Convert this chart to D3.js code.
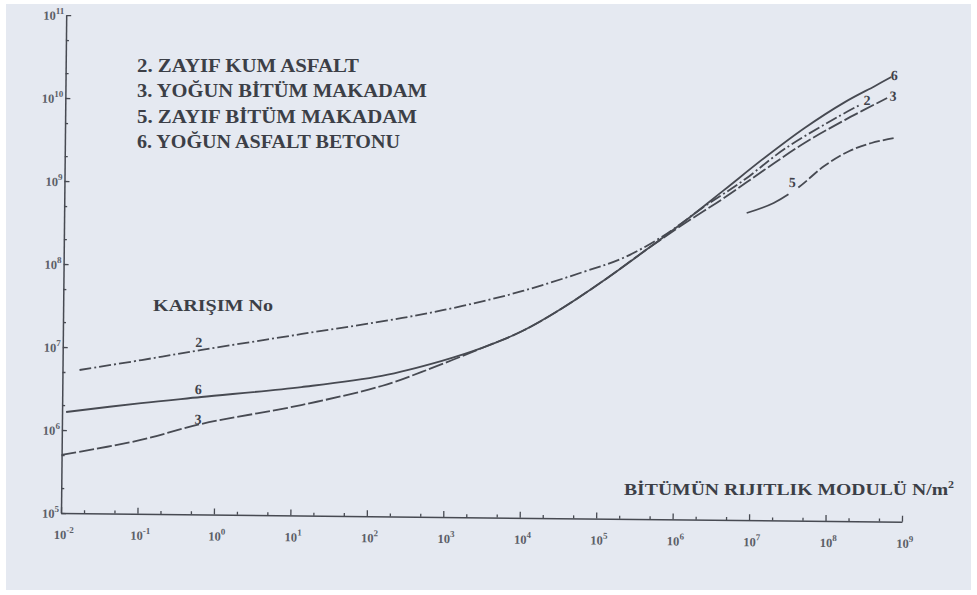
<!DOCTYPE html>
<html>
<head>
<meta charset="utf-8">
<script src="https://cdn.jsdelivr.net/npm/d3@7"></script>
<style>
  html, body { margin: 0; padding: 0; background: #ffffff; }
  svg { display: block; }
  text { font-family: "Liberation Serif", "DejaVu Serif", serif; }
</style>
</head>
<body>
<svg id="chart" width="977" height="595"></svg>
<script>
// ---- data ---------------------------------------------------------------
// stiffness of bitumen (N/m²) vs. stiffness of mix, log–log
const legendItems = [
  "2. ZAYIF KUM ASFALT",
  "3.  YOĞUN BİTÜM MAKADAM",
  "5. ZAYIF BİTÜM MAKADAM",
  "6. YOĞUN ASFALT BETONU"
];
const xTickExponents = [-2, -1, 0, 1, 2, 3, 4, 5, 6, 7, 8, 9];
const yTickExponents = [5, 6, 7, 8, 9, 10, 11];
const minorMultipliers = [2, 5];

const mix2X = [1.67e-2, 0.108, 0.659, 13.4, 274, 1.67e3, 1.02e4, 6.2e4, 2.07e5, 6.9e5, 2.31e6, 7.7e6, 2.58e7, 1.27e8, 2.47e8];
const mix2Y = [5.31e6, 7.13e6, 9.6e6, 1.54e7, 2.47e7, 3.51e7, 5.41e7, 9.3e7, 1.39e8, 2.59e8, 5.85e8, 1.25e9, 2.99e9, 7.4e9, 1.04e10];

const mix3X = [1.0e-2, 0.108, 0.659, 13.4, 150, 500, 3.05e3, 1.02e4, 3.4e4, 1.14e5, 3.79e5, 1.27e6, 4.23e6, 1.41e7, 4.71e7, 1.57e8, 5.6e8];
const mix3Y = [5.0e5, 7.76e5, 1.23e6, 2.14e6, 3.72e6, 5.56e6, 1.10e7, 1.78e7, 3.41e7, 7.3e7, 1.65e8, 3.63e8, 7.55e8, 1.66e9, 3.56e9, 6.8e9, 1.27e10];

const mix5X = [8.45e6, 1.9e7, 4.05e7, 8.6e7, 1.83e8, 3.55e8, 7.1e8];
const mix5Y = [5.02e8, 6.68e8, 1.05e9, 1.89e9, 2.89e9, 3.63e9, 4.2e9];

const mix6X = [1.13e-2, 0.108, 0.659, 13.4, 150, 914, 3.05e3, 1.02e4, 3.4e4, 1.14e5, 3.79e5, 1.27e6, 4.23e6, 1.41e7, 4.71e7, 1.57e8, 3.88e8, 6.3e8];
const mix6Y = [1.65e6, 2.16e6, 2.60e6, 3.53e6, 4.91e6, 7.59e6, 1.10e7, 1.78e7, 3.41e7, 7.3e7, 1.65e8, 3.84e8, 9.4e8, 2.32e9, 5.4e9, 1.12e10, 1.77e10, 2.28e10];

// curve numbers written next to the lines (value coordinates)
const curveTagText = ["2", "6", "3", "6", "2", "3", "5"];
const curveTagX    = [0.60, 0.60, 0.60, 6.9e8, 3.05e8, 6.7e8, 3.3e7];
const curveTagY    = [1.19e7, 3.24e6, 1.41e6, 2.41e10, 1.19e10, 1.35e10, 1.2e9];

// ---- layout ---------------------------------------------------------------
const svg = d3.select("#chart");
const W = 977, H = 595;
const ink = "#474a52";
const origin = { x: 61, y: 513 };

svg.append("rect")
  .attr("x", 6).attr("y", 4)
  .attr("width", W - 12).attr("height", H - 9)
  .attr("fill", "#e5e9f1");

const x = d3.scaleLog().domain([1e-2, 1e9]).range([61, 902]);
const y = d3.scaleLog().domain([1e5, 1e11]).range([513, 15]);

// plot frame sits slightly turned, like the printed page
const plot = svg.append("g")
  .attr("transform", `rotate(0.6, ${origin.x}, ${origin.y})`);

const xMajor = xTickExponents.map(e => Math.pow(10, e));
const xMinor = [];
xTickExponents.slice(0, -1).forEach(e => minorMultipliers.forEach(m => xMinor.push(m * Math.pow(10, e))));
const yMajor = yTickExponents.map(e => Math.pow(10, e));
const yMinor = [];
yTickExponents.slice(0, -1).forEach(e => minorMultipliers.forEach(m => yMinor.push(m * Math.pow(10, e))));

function styleAxis(g) {
  g.selectAll("path.domain").attr("stroke", ink).attr("stroke-width", 1.5);
  g.selectAll(".tick line").attr("stroke", ink).attr("stroke-width", 1.3);
  g.selectAll(".tick text").remove();
}

// x axis: ticks point up into the plot
plot.append("g")
  .attr("transform", `translate(0, ${y(1e5)})`)
  .call(d3.axisTop(x).tickValues(xMajor).tickSize(6).tickSizeOuter(0).tickFormat(""))
  .call(styleAxis);
plot.append("g")
  .attr("transform", `translate(0, ${y(1e5)})`)
  .call(d3.axisTop(x).tickValues(xMinor).tickSize(3).tickSizeOuter(0).tickFormat(""))
  .call(styleAxis)
  .call(g => g.select("path.domain").remove());

// y axis: ticks point right into the plot
plot.append("g")
  .attr("transform", `translate(${x(1e-2)}, 0)`)
  .call(d3.axisRight(y).tickValues(yMajor).tickSize(5).tickSizeOuter(0).tickFormat(""))
  .call(styleAxis);
plot.append("g")
  .attr("transform", `translate(${x(1e-2)}, 0)`)
  .call(d3.axisRight(y).tickValues(yMinor).tickSize(3).tickSizeOuter(0).tickFormat(""))
  .call(styleAxis)
  .call(g => g.select("path.domain").remove());

// tick labels 10^n with raised exponent
const tickFont = { size: 12.5, sup: 9 };
xTickExponents.forEach(e => {
  const t = plot.append("text")
    .attr("x", x(Math.pow(10, e)) + 3)
    .attr("y", y(1e5) + 26)
    .attr("text-anchor", "middle")
    .attr("font-size", tickFont.size)
    .attr("font-weight", "bold")
    .attr("fill", "#5c5f68");
  t.append("tspan").text("10");
  t.append("tspan").attr("dy", -6).attr("font-size", tickFont.sup).text(String(e));
});
yTickExponents.forEach(e => {
  const t = plot.append("text")
    .attr("x", x(1e-2) - 2)
    .attr("y", y(Math.pow(10, e)) + 5)
    .attr("text-anchor", "end")
    .attr("font-size", tickFont.size)
    .attr("font-weight", "bold")
    .attr("fill", "#5c5f68");
  t.append("tspan").text("10");
  t.append("tspan").attr("dy", -6).attr("font-size", tickFont.sup).text(String(e));
});

// ---- curves ----------------------------------------------------------------
const line = d3.line()
  .x(d => x(d[0]))
  .y(d => y(d[1]))
  .curve(d3.curveCatmullRom.alpha(0.5));

// mix 5: an unbroken lead-in, a gap for its number, then dashes
const mix5Dash = [46, 12].concat(d3.range(20).flatMap(() => [11, 3])).join(",");

const curves = [
  { xs: mix2X, ys: mix2Y, dash: "12,3,2,3" },
  { xs: mix3X, ys: mix3Y, dash: "15,3" },
  { xs: mix5X, ys: mix5Y, dash: mix5Dash },
  { xs: mix6X, ys: mix6Y, dash: null }
];
curves.forEach(c => {
  plot.append("path")
    .datum(d3.zip(c.xs, c.ys))
    .attr("d", line)
    .attr("fill", "none")
    .attr("stroke", ink)
    .attr("stroke-width", 1.8)
    .attr("stroke-dasharray", c.dash);
});

curveTagText.forEach((s, i) => {
  plot.append("text")
    .attr("x", x(curveTagX[i]))
    .attr("y", y(curveTagY[i]) + 5)
    .attr("text-anchor", "middle")
    .attr("font-size", 14)
    .attr("font-weight", "bold")
    .attr("fill", "#3f424a")
    .text(s);
});

// ---- legend and titles --------------------------------------------------------
const legendWidths = [222, 290, 280, 263];
legendItems.forEach((s, i) => {
  svg.append("text")
    .attr("x", 137)
    .attr("y", 72 + i * 25.3)
    .attr("font-size", 18.5)
    .attr("font-weight", "bold")
    .attr("fill", "#3c3f47")
    .attr("textLength", legendWidths[i])
    .attr("lengthAdjust", "spacingAndGlyphs")
    .text(s);
});

svg.append("text")
  .attr("x", 153).attr("y", 311)
  .attr("font-size", 17)
  .attr("font-weight", "bold")
  .attr("fill", "#3c3f47")
  .attr("textLength", 120)
  .attr("lengthAdjust", "spacingAndGlyphs")
  .text("KARIŞIM No");

const xt = svg.append("text")
  .attr("x", 624).attr("y", 495)
  .attr("font-size", 16.5)
  .attr("font-weight", "bold")
  .attr("fill", "#3c3f47")
  .attr("textLength", 330)
  .attr("lengthAdjust", "spacingAndGlyphs");
xt.append("tspan").text("BİTÜMÜN RIJITLIK MODULÜ N/m");
xt.append("tspan").attr("dy", -7).attr("font-size", 10).text("2");
</script>
</body>
</html>
